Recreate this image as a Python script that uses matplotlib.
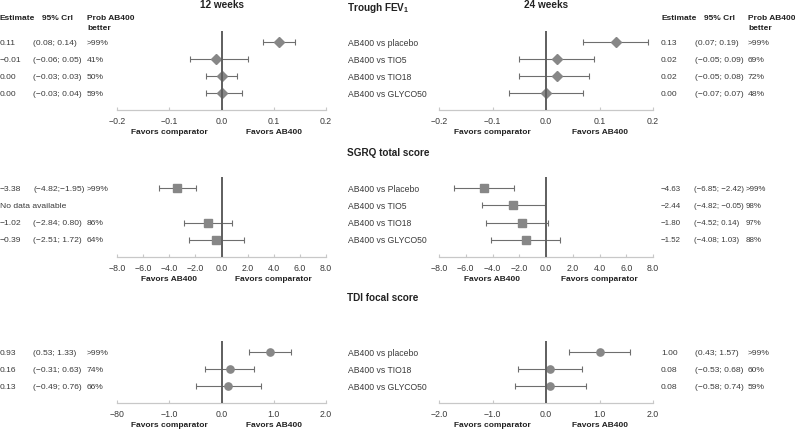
import numpy as np
import matplotlib.pyplot as plt
from matplotlib.transforms import blended_transform_factory

plt.rcParams["font.family"] = ["Liberation Sans", "DejaVu Sans"]
plt.rcParams["mathtext.fontset"] = "custom"
plt.rcParams["mathtext.rm"] = "Liberation Sans"
plt.rcParams["mathtext.bf"] = "Liberation Sans:bold"

W, H = 795, 431

# Trough FEV1
fev_rows = ["AB400 vs placebo", "AB400 vs TIO5", "AB400 vs TIO18", "AB400 vs GLYCO50"]
fev12_est = [0.11, -0.01, 0.00, 0.00]
fev12_lo = [0.08, -0.06, -0.03, -0.03]
fev12_hi = [0.14, 0.05, 0.03, 0.04]
fev12_prob = [">99%", "41%", "50%", "59%"]
fev24_est = [0.13, 0.02, 0.02, 0.00]
fev24_lo = [0.07, -0.05, -0.05, -0.07]
fev24_hi = [0.19, 0.09, 0.08, 0.07]
fev24_prob = [">99%", "69%", "72%", "48%"]
fev_ticks = [-0.2, -0.1, 0.0, 0.1, 0.2]
fev_ticklabels = ["\u22120.2", "\u22120.1", "0.0", "0.1", "0.2"]

# SGRQ total score
sgrq_rows = ["AB400 vs Placebo", "AB400 vs TIO5", "AB400 vs TIO18", "AB400 vs GLYCO50"]
sgrq12_est = [-3.38, np.nan, -1.02, -0.39]
sgrq12_lo = [-4.82, np.nan, -2.84, -2.51]
sgrq12_hi = [-1.95, np.nan, 0.80, 1.72]
sgrq12_sep = [";", "; ", "; ", "; "]
sgrq12_prob = [">99%", "", "86%", "64%"]
sgrq24_est = [-4.63, -2.44, -1.80, -1.52]
sgrq24_lo = [-6.85, -4.82, -4.52, -4.08]
sgrq24_hi = [-2.42, -0.05, 0.14, 1.03]
sgrq24_prob = [">99%", "98%", "97%", "88%"]
sgrq_ticks = [-8, -6, -4, -2, 0, 2, 4, 6, 8]
sgrq_ticklabels = ["\u22128.0", "\u22126.0", "\u22124.0", "\u22122.0", "0.0", "2.0", "4.0", "6.0", "8.0"]

# TDI focal score
tdi_rows = ["AB400 vs placebo", "AB400 vs TIO18", "AB400 vs GLYCO50"]
tdi12_est = [0.93, 0.16, 0.13]
tdi12_lo = [0.53, -0.31, -0.49]
tdi12_hi = [1.33, 0.63, 0.76]
tdi12_prob = [">99%", "74%", "66%"]
tdi24_est = [1.00, 0.08, 0.08]
tdi24_lo = [0.43, -0.53, -0.58]
tdi24_hi = [1.57, 0.68, 0.74]
tdi24_prob = [">99%", "60%", "59%"]
tdi_ticks = [-2, -1, 0, 1, 2]
tdi12_ticklabels = ["\u221280", "\u22121.0", "0.0", "1.0", "2.0"]
tdi24_ticklabels = ["\u22122.0", "\u22121.0", "0.0", "1.0", "2.0"]

TXT = "#3a3a3a"
MK = "#878787"


def fmt(v):
    return f"{v:.2f}".replace("-", "\u2212")


def fx(px):
    return px / W


def fy(py):
    return 1 - py / H


fig = plt.figure(figsize=(W / 100, H / 100), dpi=100)


def forest(left, right, top, bottom, est, lo, hi, marker, ms, ticks, ticklabels, fav_l, fav_r):
    ax = fig.add_axes([fx(left), fy(bottom), (right - left) / W, (bottom - top) / H])
    n = len(est)
    y = np.arange(n)
    est = np.array(est, dtype=float)
    lo = np.array(lo, dtype=float)
    hi = np.array(hi, dtype=float)
    ax.errorbar(est, y, xerr=[est - lo, hi - est], fmt="none", ecolor="#6e6e6e",
                elinewidth=0.8, capsize=2.2, capthick=0.8, zorder=2)
    ax.plot(est, y, linestyle="none", marker=marker, ms=ms, color=MK, mec=MK, zorder=3)
    ax.axvline(0, color="#5e5e5e", lw=1.4, zorder=4)
    ax.set_xlim(ticks[0], ticks[-1])
    ax.set_ylim(n, -0.65)
    ax.set_xticks(ticks)
    ax.set_xticklabels(ticklabels)
    ax.set_yticks([])
    for s in ["top", "left", "right"]:
        ax.spines[s].set_visible(False)
    ax.spines["bottom"].set_color("#c8c8c8")
    ax.spines["bottom"].set_linewidth(0.9)
    ax.tick_params(axis="x", direction="in", length=2, color="#c8c8c8",
                   labelsize=6.3, labelcolor=TXT, pad=4)
    ax.patch.set_visible(False)
    fy_fav = bottom + 22
    fig.text(fx(left + 0.25 * (right - left)), fy(fy_fav), fav_l, ha="center", va="center",
             fontsize=6, fontweight="bold", color="#222222")
    fig.text(fx(left + 0.75 * (right - left)), fy(fy_fav), fav_r, ha="center", va="center",
             fontsize=6, fontweight="bold", color="#222222")
    return ax


def table(ax, xs, est, lo, hi, prob, sep=None, size=6.1, missing="No data available"):
    tr = blended_transform_factory(fig.transFigure, ax.transData)
    kw = dict(transform=tr, ha="left", va="center", fontsize=size, color=TXT)
    for i in range(len(est)):
        if np.isnan(est[i]):
            ax.text(fx(xs[0]), i, missing, **kw)
            continue
        s = "; " if sep is None else sep[i]
        ax.text(fx(xs[0]), i, fmt(est[i]), **kw)
        ax.text(fx(xs[1]), i, f"({fmt(lo[i])}{s}{fmt(hi[i])})", **kw)
        ax.text(fx(xs[2]), i, prob[i], **kw)


def labels(ax, rows):
    tr = blended_transform_factory(fig.transFigure, ax.transData)
    for i, r in enumerate(rows):
        ax.text(fx(348), i, r, transform=tr, ha="left", va="center", fontsize=6.2, color=TXT)


LX = (117, 326)
RX = (439, 653)
left_cols = (0, 33, 87)
right_cols = (661, 695, 748)

# headers
fig.text(fx(222), fy(5), "12 weeks", ha="center", va="center", fontsize=7.2,
         fontweight="bold", color="#222222")
fig.text(fx(546), fy(5), "24 weeks", ha="center", va="center", fontsize=7.2,
         fontweight="bold", color="#222222")
fig.text(fx(347), fy(8), r"Trough FEV$_\mathbf{1}$", ha="left", va="center", fontsize=7.2,
         fontweight="bold", color="#222222")
fig.text(fx(347), fy(153), "SGRQ total score", ha="left", va="center", fontsize=7.2,
         fontweight="bold", color="#222222")
fig.text(fx(347), fy(298), "TDI focal score", ha="left", va="center", fontsize=7.2,
         fontweight="bold", color="#222222")

for xs in (left_cols, right_cols):
    fig.text(fx(xs[0]), fy(18), "Estimate", ha="left", va="center", fontsize=6,
             fontweight="bold", color="#222222")
    fig.text(fx(xs[1] + 9), fy(18), "95% CrI", ha="left", va="center", fontsize=6,
             fontweight="bold", color="#222222")
    fig.text(fx(xs[2]), fy(18), "Prob AB400", ha="left", va="center", fontsize=6,
             fontweight="bold", color="#222222")
    fig.text(fx(xs[2]), fy(29), "better", ha="left", va="center", fontsize=6,
             fontweight="bold", color="#222222")

# Trough FEV1
ax = forest(*LX, 32, 111, fev12_est, fev12_lo, fev12_hi, "D", 5, fev_ticks, fev_ticklabels,
            "Favors comparator", "Favors AB400")
table(ax, left_cols, fev12_est, fev12_lo, fev12_hi, fev12_prob)
labels(ax, fev_rows)
ax = forest(*RX, 32, 111, fev24_est, fev24_lo, fev24_hi, "D", 5, fev_ticks, fev_ticklabels,
            "Favors comparator", "Favors AB400")
table(ax, right_cols, fev24_est, fev24_lo, fev24_hi, fev24_prob)

# SGRQ
ax = forest(*LX, 178, 258, sgrq12_est, sgrq12_lo, sgrq12_hi, "s", 5.5, sgrq_ticks,
            sgrq_ticklabels, "Favors AB400", "Favors comparator")
table(ax, left_cols, sgrq12_est, sgrq12_lo, sgrq12_hi, sgrq12_prob, sep=sgrq12_sep)
labels(ax, sgrq_rows)
ax = forest(*RX, 178, 258, sgrq24_est, sgrq24_lo, sgrq24_hi, "s", 5.5, sgrq_ticks,
            sgrq_ticklabels, "Favors AB400", "Favors comparator")
table(ax, (661, 694, 746), sgrq24_est, sgrq24_lo, sgrq24_hi, sgrq24_prob, size=5.7)

# TDI
ax = forest(*LX, 342, 404, tdi12_est, tdi12_lo, tdi12_hi, "o", 5.2, tdi_ticks,
            tdi12_ticklabels, "Favors comparator", "Favors AB400")
table(ax, left_cols, tdi12_est, tdi12_lo, tdi12_hi, tdi12_prob)
labels(ax, tdi_rows)
ax = forest(*RX, 342, 404, tdi24_est, tdi24_lo, tdi24_hi, "o", 5.2, tdi_ticks,
            tdi24_ticklabels, "Favors comparator", "Favors AB400")
table(ax, right_cols, tdi24_est, tdi24_lo, tdi24_hi, tdi24_prob)

fig.savefig("out.png", dpi=100)
